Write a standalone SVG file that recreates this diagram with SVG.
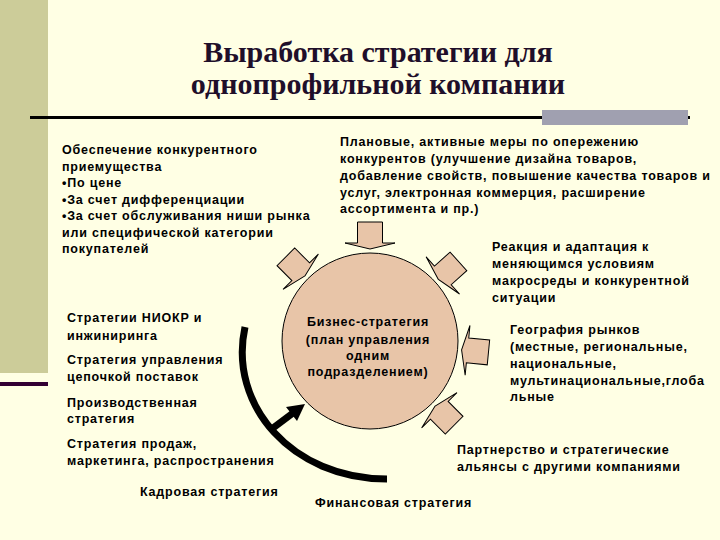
<svg xmlns="http://www.w3.org/2000/svg" width="720" height="540" viewBox="0 0 720 540">
<style>
.t{font-family:"Liberation Sans",Arial,sans-serif;font-weight:bold;font-size:12.5px;fill:#000;letter-spacing:0.8px}
.c{text-anchor:middle}
.title{font-family:"Liberation Serif","Times New Roman",serif;font-weight:bold;font-size:30px;fill:#1f0f2a;text-anchor:middle}
.blk{fill:#e8c5a8;stroke:#000;stroke-width:1}
</style>
<defs>
<polygon id="ba" points="92,0 98,-25 98,-12.5 119,-12.5 119,12.5 98,12.5 98,25"/>
</defs>
<rect width="720" height="540" fill="#ffffe4"/>
<rect x="0" y="0" width="48" height="373" fill="#cccc99"/>
<rect x="0" y="382" width="48" height="4" fill="#330033"/>
<g id="title">
<text class="title" x="378" y="62">Выработка стратегии для</text>
<text class="title" x="378" y="94">однопрофильной компании</text>
<rect x="30" y="116" width="660" height="3" fill="#000"/>
<rect x="542" y="110" width="146" height="15" fill="#a0a0b0"/>
</g>
<g id="connectors">
<g class="blk">
<use href="#ba" transform="translate(370,341) rotate(-90)"/>
<use href="#ba" transform="translate(370,341) rotate(-135)"/>
<use href="#ba" transform="translate(370,341) rotate(-42)"/>
<use href="#ba" transform="translate(370,341) rotate(5.5)"/>
<use href="#ba" transform="translate(370,341) rotate(45)"/>
</g>
<path d="M245,327 C228,405 292,479 387,479" fill="none" stroke="#000" stroke-width="7"/>
<line x1="273" y1="428" x2="293" y2="413" stroke="#000" stroke-width="7"/>
<polygon points="305,404 286,407 297,421" fill="#000"/>
</g>
<g id="core">
<circle cx="370" cy="341" r="88" fill="#e8c5a8" stroke="#000" stroke-width="1"/>
<text class="t c" x="368" y="326">Бизнес-стратегия</text>
<text class="t c" x="368" y="344">(план управления</text>
<text class="t c" x="368" y="360">одним</text>
<text class="t c" x="368" y="376">подразделением)</text>
</g>
<g id="advantage">
<text class="t" x="62" y="154">Обеспечение конкурентного</text>
<text class="t" x="62" y="170.5">приемущества</text>
<text class="t" x="62" y="187">•По цене</text>
<text class="t" x="62" y="203.5">•За счет дифференциации</text>
<text class="t" x="62" y="220">•За счет обслуживания ниши рынка</text>
<text class="t" x="62" y="236.5">или специфической категории</text>
<text class="t" x="62" y="253">покупателей</text>
</g>
<g id="planned">
<text class="t" x="340" y="146">Плановые, активные меры по опережению</text>
<text class="t" x="340" y="163">конкурентов (улучшение дизайна товаров,</text>
<text class="t" x="340" y="180">добавление свойств, повышение качества товаров и</text>
<text class="t" x="340" y="197">услуг, электронная коммерция, расширение</text>
<text class="t" x="340" y="213">ассортимента и пр.)</text>
</g>
<g id="reaction">
<text class="t" x="492" y="251">Реакция и адаптация к</text>
<text class="t" x="492" y="268">меняющимся условиям</text>
<text class="t" x="492" y="285">макросреды и конкурентной</text>
<text class="t" x="492" y="302">ситуации</text>
</g>
<g id="geo">
<text class="t" x="510" y="334">География рынков</text>
<text class="t" x="510" y="351">(местные, региональные,</text>
<text class="t" x="510" y="368">национальные,</text>
<text class="t" x="510" y="385">мультинациональные,глоба</text>
<text class="t" x="510" y="401">льные</text>
</g>
<g id="partner">
<text class="t" x="457" y="454">Партнерство и стратегические</text>
<text class="t" x="457" y="471">альянсы с другими компаниями</text>
</g>
<g id="finance"><text class="t" x="315" y="507">Финансовая стратегия</text></g>
<g id="hr"><text class="t" x="140" y="496">Кадровая стратегия</text></g>
<g id="rnd">
<text class="t" x="67" y="322">Стратегии НИОКР и</text>
<text class="t" x="67" y="340">инжиниринга</text>
</g>
<g id="supply">
<text class="t" x="67" y="364">Стратегия управления</text>
<text class="t" x="67" y="381">цепочкой поставок</text>
</g>
<g id="production">
<text class="t" x="67" y="407">Производственная</text>
<text class="t" x="67" y="423">стратегия</text>
</g>
<g id="sales">
<text class="t" x="67" y="448">Стратегия продаж,</text>
<text class="t" x="67" y="465">маркетинга, распространения</text>
</g>
</svg>
